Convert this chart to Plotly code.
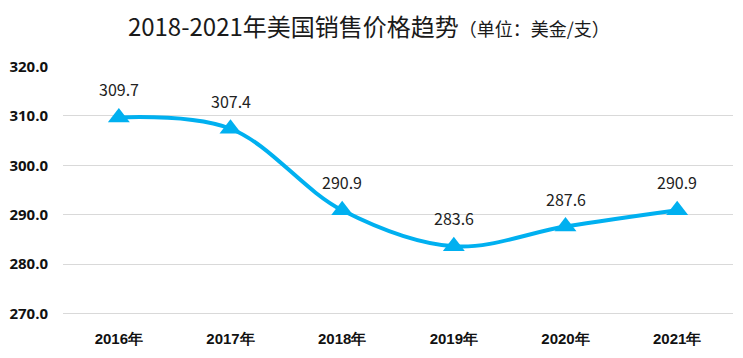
import plotly.graph_objects as go

categories = ["2016年", "2017年", "2018年", "2019年", "2020年", "2021年"]
prices = [309.7, 307.4, 290.9, 283.6, 287.6, 290.9]
y_ticks = [270, 280, 290, 300, 310, 320]

fig = go.Figure()
fig.add_trace(go.Scatter(
    x=list(range(len(categories))), y=prices, mode="lines+markers",
    line=dict(color="#00B0F0", width=4, shape="spline", smoothing=1.0),
    marker=dict(symbol="triangle-up", size=19, color="#00B0F0"),
    hoverinfo="skip", showlegend=False, cliponaxis=False,
))
for i, v in enumerate(prices):
    fig.add_annotation(x=i, y=v, text=f"{v:.1f}", showarrow=False, yshift=28,
                       font=dict(family="Noto Sans CJK SC", size=16, color="#222"))

# page body has an 8px default margin, so the figure is sized/offset to compensate
fig.update_layout(
    width=735, height=350,
    margin=dict(l=55, r=10, t=58, b=42, autoexpand=False),
    paper_bgcolor="white", plot_bgcolor="white",
    title=dict(
        text="2018-2021年美国销售价格趋势<span style='font-size:18px'>（单位：美金/支）</span>",
        x=0.491, xanchor="center", y=0.945, yanchor="middle", yref="container",
        font=dict(family="Noto Sans CJK SC", size=24, color="#1a1a1a"),
    ),
    xaxis=dict(
        range=[-0.5, 5.5], tickvals=list(range(len(categories))), ticktext=categories,
        showgrid=False, zeroline=False, showline=False, ticks="", automargin=False,
        ticklabelstandoff=12,
        tickfont=dict(family="Liberation Sans", size=15, color="#111", weight="bold"),
    ),
    yaxis=dict(
        range=[269.5, 320.1], tickvals=y_ticks, ticktext=[f"{t:.1f}" for t in y_ticks],
        showgrid=True, gridcolor="#D9D9D9", gridwidth=1, zeroline=False, showline=False,
        ticks="", ticklabelstandoff=14, automargin=False,
        tickfont=dict(family="Open Sans", size=15, color="#111", weight="bold"),
    ),
)
fig.write_html("out.html")
